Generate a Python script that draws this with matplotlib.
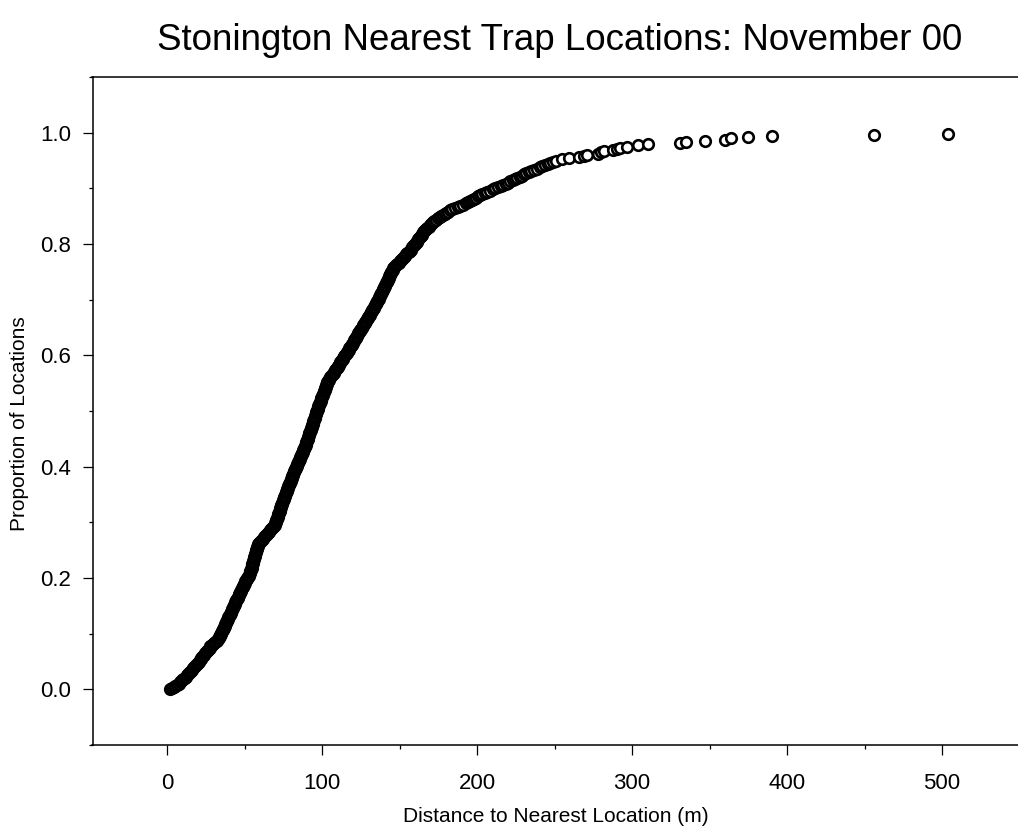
import numpy as np
import matplotlib
matplotlib.use("Agg")
import matplotlib.pyplot as plt
from matplotlib.ticker import MultipleLocator, FormatStrFormatter

# Distance (m) from each trap location to its nearest neighbouring location, sorted
distances = [
    2.0, 3.1, 4.3, 5.4, 6.5, 7.7,
    8.5, 9.2, 9.9, 10.6, 11.3, 12.0, 12.7, 13.3, 14.0, 14.7, 15.4, 16.1, 16.8,
    17.4, 18.0, 18.6, 19.2, 19.8, 20.4, 21.0, 21.6, 22.1, 22.7, 23.3, 23.9, 24.5,
    25.1, 25.7, 26.2, 26.8, 27.4,
    28.0, 28.8, 29.6, 30.4, 31.2, 32.0, 32.8,
    33.3, 33.6, 34.0, 34.3, 34.7, 35.0, 35.4, 35.8, 36.1, 36.5, 36.8, 37.2, 37.5,
    37.9, 38.2, 38.6, 38.9, 39.3, 39.6, 40.0, 40.3,
    40.7, 41.0, 41.4, 41.7, 42.1, 42.4, 42.8, 43.1, 43.5, 43.8, 44.1, 44.5, 44.8,
    45.2, 45.5, 45.9, 46.2, 46.6, 46.9, 47.2, 47.6, 47.9, 48.3,
    48.7, 49.0, 49.4, 49.8, 50.2, 50.6, 51.0, 51.4, 51.8, 52.2, 52.6, 53.0, 53.4,
    53.6, 53.8, 54.1, 54.3, 54.5, 54.7, 54.9, 55.1, 55.3, 55.5, 55.7, 55.9, 56.1,
    56.3, 56.6, 56.8, 57.0, 57.2, 57.4, 57.6, 57.8, 58.0, 58.2, 58.4, 58.6,
    59.2, 59.9, 60.5, 61.2, 61.9, 62.5, 63.2, 63.9,
    64.6, 65.2, 65.8, 66.4, 67.0, 67.6, 68.2, 68.8, 69.4,
    69.8, 70.1, 70.3, 70.6, 70.8, 71.1, 71.3, 71.6, 71.8, 72.1, 72.3, 72.6, 72.8,
    73.1, 73.3, 73.6, 73.8, 74.1, 74.3, 74.6,
    74.9, 75.2, 75.4, 75.7, 76.0, 76.3, 76.6, 76.9, 77.2, 77.4, 77.7, 78.0, 78.3,
    78.6, 78.9, 79.1, 79.4, 79.7, 80.0, 80.3, 80.6, 80.9, 81.1,
    81.4, 81.7, 82.0, 82.4, 82.7, 83.0, 83.3, 83.7, 84.0, 84.3, 84.6, 85.0, 85.3,
    85.6, 85.9, 86.2, 86.6, 86.9, 87.2, 87.5, 87.9, 88.2, 88.5, 88.8, 89.2, 89.5,
    89.7, 89.9, 90.2, 90.4, 90.7, 90.9, 91.2, 91.4, 91.7, 91.9, 92.2, 92.4, 92.7,
    92.9, 93.2, 93.4, 93.7, 93.9, 94.2, 94.4, 94.7, 94.9, 95.2, 95.4, 95.7, 95.9,
    96.2, 96.4, 96.7,
    96.9, 97.2, 97.5, 97.7, 98.0, 98.3, 98.5, 98.8, 99.1, 99.4, 99.6, 99.9, 100.2,
    100.5, 100.7, 101.0, 101.3, 101.6, 101.8, 102.1, 102.4, 102.6, 102.9, 103.2,
    103.5, 103.7,
    104.2, 104.7, 105.3, 105.8, 106.3, 106.8, 107.4, 107.9, 108.4, 108.9, 109.5,
    110.0, 110.5, 111.0, 111.4, 111.9, 112.4, 112.9, 113.4, 113.8, 114.3, 114.8,
    115.3, 115.8, 116.2, 116.7, 117.2, 117.7,
    118.1, 118.6, 119.0, 119.4, 119.9, 120.3, 120.7, 121.2, 121.6, 122.0, 122.5,
    122.9, 123.4, 123.8, 124.2,
    124.7, 125.2, 125.6, 126.1, 126.6, 127.1, 127.5, 128.0, 128.5, 128.9, 129.4,
    129.9, 130.3, 130.7, 131.2, 131.6, 132.0, 132.5, 132.9, 133.3, 133.7, 134.2,
    134.6,
    135.0, 135.4, 135.7, 136.1, 136.5, 136.8, 137.2, 137.5, 137.9, 138.3, 138.6,
    139.0, 139.4, 139.7, 140.1, 140.5, 140.8, 141.2, 141.6, 141.9, 142.3, 142.6,
    143.0, 143.4, 143.7, 144.1, 144.5, 144.8, 145.2, 145.6, 145.9,
    146.5, 147.2, 147.9, 148.6, 149.4, 150.1, 150.8, 151.5, 152.2, 152.9, 153.7,
    154.4, 155.1, 155.8, 156.5,
    157.2, 157.7, 158.2, 158.8, 159.3, 159.9, 160.4, 161.0, 161.5, 162.0, 162.6,
    163.1, 163.7, 164.2, 164.7,
    165.3, 166.0, 166.6, 167.3, 168.0, 168.7, 169.4, 170.1, 170.8, 171.5,
    172.5, 173.6, 174.7, 175.8, 176.9, 178.0, 179.1, 180.2, 181.3, 182.3,
    183.9, 185.6, 187.4, 189.1, 190.9, 192.6,
    194.1, 195.4, 196.6, 197.9, 199.2, 200.4, 201.7,
    203.3, 205.0, 206.7, 208.4, 210.1, 211.8, 213.6, 215.3,
    217.0, 218.5, 220.0, 221.5, 223.0, 224.5, 225.9, 227.4, 228.9, 230.4, 231.9,
    233.4,
    235.0, 236.8, 238.5, 240.3, 242.0, 243.8, 245.5, 247.3, 249.0, 250.8,
    255.0, 259.0, 266.0, 269.0, 271.0, 278.0, 280.0, 282.0, 288.0, 290.0, 292.0,
    297.0, 304.0, 310.0,
    331.0, 335.0, 347.0, 360.0, 364.0, 375.0, 390.0, 456.0, 504.0,
]

title = "Stonington Nearest Trap Locations: November 00"
x_label = "Distance to Nearest Location (m)"
y_label = "Proportion of Locations"

# Empirical cumulative proportion for each sorted distance
dist = np.sort(np.asarray(distances))
prop = np.arange(len(dist)) / len(dist)

W, H = 1018, 835
fig = plt.figure(figsize=(W / 100, H / 100), dpi=100)
ax = fig.add_axes([92.5 / W, 1 - 745 / H, (W - 92.5) / W, (745 - 77) / H])

ax.plot(dist, prop, linestyle="none", marker="o", markersize=7.6,
        markerfacecolor="white", markeredgecolor="black", markeredgewidth=1.9)

ax.set_xlim(-48.1, 549)
ax.set_ylim(-0.1, 1.1)

ax.xaxis.set_major_locator(MultipleLocator(100))
ax.xaxis.set_minor_locator(MultipleLocator(50))
ax.yaxis.set_major_locator(MultipleLocator(0.2))
ax.yaxis.set_minor_locator(MultipleLocator(0.1))
ax.yaxis.set_major_formatter(FormatStrFormatter("%.1f"))

tick_family = ["Liberation Sans", "DejaVu Sans"]
ax.tick_params(axis="both", which="major", direction="out", length=7.2, width=0.9,
               color="black")
ax.tick_params(axis="both", which="minor", direction="out", length=3, width=0.9,
               color="black")
ax.tick_params(axis="x", which="major", pad=13)
ax.tick_params(axis="y", which="major", pad=8)
for lbl in ax.get_xticklabels() + ax.get_yticklabels():
    lbl.set_fontfamily(tick_family)
    lbl.set_fontsize(16)

for side in ("left", "top", "bottom"):
    ax.spines[side].set_linewidth(1.1)
    ax.spines[side].set_color("black")
ax.spines["right"].set_visible(False)

label_family = ["Liberation Sans", "DejaVu Sans"]
fig.text(556 / W, 1 - 816 / H, x_label, ha="center", va="center",
         family=label_family, size=15)
fig.text(20 / W, 1 - 424 / H, y_label, ha="center", va="center",
         rotation=90, family=label_family, size=15)
fig.text(560 / W, 1 - 40 / H, title, ha="center", va="center",
         family=["Liberation Sans", "DejaVu Sans"], size=26.5)

fig.savefig("out.png", dpi=100)
